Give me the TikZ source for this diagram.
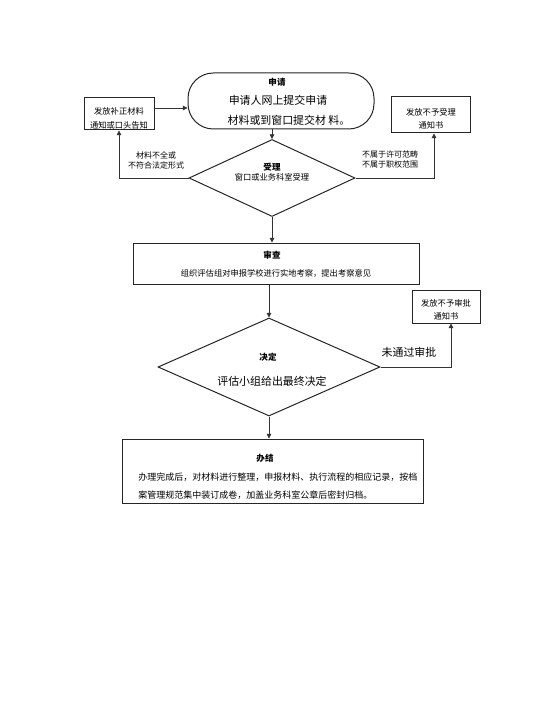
\documentclass[tikz,border=0pt]{standalone}
\usepackage{fontspec}
\setmainfont{Noto Sans CJK SC}
\usetikzlibrary{shapes.geometric,arrows.meta}
\newcommand\fsz[1]{\fontsize{#1}{#1}\selectfont}
\newcommand\fszb[2]{\fontsize{#1}{#2}\selectfont}
\begin{document}
\begin{tikzpicture}[x=0.75pt,y=-0.75pt,
  box/.style={draw=black!85,line width=0.75pt,inner sep=0pt},
  dia/.style={draw=black!85,line width=0.75pt,shape=diamond,inner sep=0pt},
  arr/.style={draw=black!80,line width=0.6pt,-{Triangle[length=3.5pt,width=3.5pt]}},
  ttl/.style={font=\fsz{6.4pt}\bfseries,inner sep=0pt},
  sm/.style={font=\fsz{6.2pt},inner sep=0pt,align=center},
  big/.style={font=\fsz{8.2pt},inner sep=0pt}]
\useasboundingbox[fill=white] (0,0) rectangle (548,727);

% top stadium
\node[box,rounded corners=19pt,minimum width=139.5pt,minimum height=42pt] (stad) at (281,101) {};
\node[ttl] (stadt) at (277,82) {申请};
\node[big] (stadl1) at (278,100) {申请人网上提交申请};
\node[big] (stadl2) at (289,120) {材料或到窗口提交材 料。};

% left box
\node[box,minimum width=52.5pt,minimum height=24pt] (lbox) at (119,114) {};
\node[sm,font=\fszb{6.2pt}{10.5pt}] (lboxt) at (119,118) {发放补正材料\\通知或口头告知};

% right box
\node[box,minimum width=59.25pt,minimum height=27pt] (rbox) at (431,115) {};
\node[sm,font=\fszb{6.2pt}{9.75pt}] (rboxt) at (431,118.5) {发放不予受理\\通知书};

% diamond 1
\node[dia,minimum width=124.5pt,minimum height=57.75pt] (d1) at (272,178) {};
\node[ttl] (d1t) at (272,167) {受理};
\node[sm] (d1s) at (272,177) {窗口或业务科室受理};

\node[sm,font=\fszb{6pt}{7.5pt}] (ll) at (156,160) {材料不全或\\不符合法定形式};
\node[sm,font=\fszb{6pt}{7pt}] (rl) at (390,159.5) {不属于许可范畴\\不属于职权范围};

% box 审查
\node[box,minimum width=214.5pt,minimum height=30.75pt] (b2) at (276,263.5) {};
\node[ttl] (b2t) at (272,255) {审查};
\node[sm] (b2s) at (276,273) {组织评估组对申报学校进行实地考察，提出考察意见};

% diamond 2
\node[dia,minimum width=166.5pt,minimum height=73.5pt] (d2) at (269,367) {};
\node[ttl] (d2t) at (268,357) {决定};
\node[big] (d2s) at (272,381) {评估小组给出最终决定};

% right box 2
\node[box,minimum width=51pt,minimum height=24.75pt] (rb2) at (446,306.5) {};
\node[sm,font=\fszb{6.2pt}{9.75pt}] (rb2t) at (446,309.5) {发放不予审批\\通知书};
\node[big] (rl2) at (409,352) {未通过审批};

% box 办结
\node[box,minimum width=225.75pt,minimum height=48pt] (b3) at (272.5,471) {};
\node[ttl] (b3t) at (265,458) {办结};
\node[inner sep=0pt,anchor=west,font=\fsz{6.75pt}] (b3l1) at (138,477) {办理完成后，对材料进行整理，申报材料、执行流程的相应记录，按档};
\node[inner sep=0pt,anchor=west,font=\fsz{6.75pt}] (b3l2) at (138,495) {案管理规范集中装订成卷，加盖业务科室公章后密封归档。};

% connectors
\draw[arr] ([yshift=4.5pt]lbox.east) coordinate (pa) -- (pa -| stad.west);
\draw[arr] (d1.north |- stad.south) -- (d1.north);
\draw[arr] (d1.west) -| (lbox.south);
\draw[arr] (d1.east) -| ([xshift=2.25pt]rbox.south);
\draw[arr] (d1.south) -- (d1.south |- b2.north);
\draw[arr] (d2.north |- b2.south) -- (d2.north);
\draw[arr] (d2.east) -| ([xshift=3.75pt]rb2.south);
\draw[arr] (d2.south) -- (d2.south |- b3.north);
\end{tikzpicture}
\end{document}
